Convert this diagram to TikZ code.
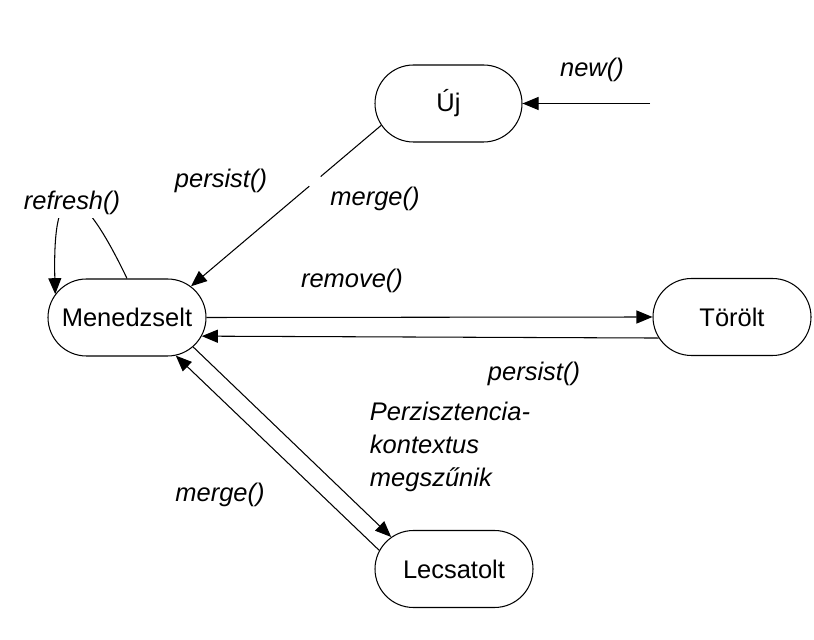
\documentclass[tikz,border=0pt]{standalone}
\usepackage{fontspec}
\setmainfont{Liberation Sans}
\usetikzlibrary{arrows.meta}
\usetikzlibrary{shapes.misc}
\tikzset{>={Triangle[length=0.32cm,width=0.26cm]}}
\tikzset{
  statebox/.style={draw,rounded rectangle,minimum width=3.16cm,minimum height=1.54cm,
                   inner sep=0pt,line width=0.6pt,font=\fontsize{14.5}{18.7}\selectfont},
  trans/.style={->,line width=0.6pt},
  lbl/.style={font=\fontsize{14.5}{18.7}\selectfont\itshape,inner sep=2pt}
}

\begin{document}
\begin{tikzpicture}
  \useasboundingbox (0,0) rectangle (16.28,-12.8);
  
  % STATES
  \node[statebox,minimum width=2.94cm] (uj) at (8.97,-2.07) {Új};
  \node[statebox] (men) at (2.54,-6.35) {Menedzselt};
  \node[statebox] (torolt) at (14.64,-6.34) {Törölt};
  \node[statebox] (lec) at (9.08,-11.38) {Lecsatolt};
  \coordinate (start) at (13.0,-2.07);
  
  % TRANSITIONS
  \draw[trans] (start) -- (uj.east);
  \path (uj.198) -- coordinate[pos=0.318] (gapA) coordinate[pos=0.378] (gapB) (men.26);
  \draw[line width=0.6pt] (uj.198) -- (gapA);
  \draw[trans] (gapB) -- (men.26);
  \draw[trans] (men.north) .. controls +(-0.94,1.96) and +(-0.06,2.46) .. (men.162);
  \draw[trans] (men.east) -- (torolt.west);
  \draw[trans] (torolt.196) -- (men.-14);
  \draw[trans] (men.-24) -- (lec.153);
  \draw[trans] (lec.166) -- (men.-38);
  
  % LABELS
  \node[lbl] (lnew) at (11.84,-1.40) {new()};
  \node[lbl] (lpersist) at (4.42,-3.62) {persist()};
  \node[lbl] (lmerge) at (7.50,-3.98) {merge()};
  \node[lbl,fill=white] (lrefresh) at (1.44,-4.06) {refresh()};
  \node[lbl] (lremove) at (7.04,-5.62) {remove()};
  \node[lbl] (lpersistb) at (10.68,-7.48) {persist()};
  \node[lbl] (lmergeb) at (4.40,-9.90) {merge()};
  \node[lbl,align=left] (lmegsz) at (9.0,-8.94) {Perzisztencia-\\kontextus\\megszűnik};
  
\end{tikzpicture}
\end{document}
